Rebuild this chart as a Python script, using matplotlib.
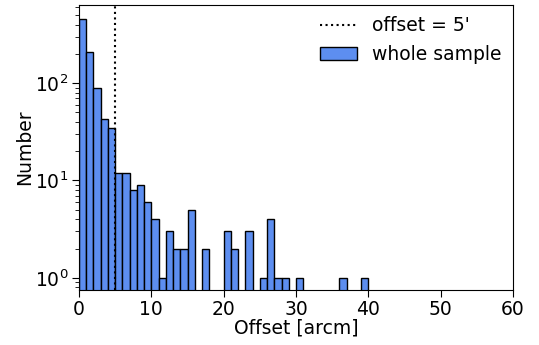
import numpy as np
import matplotlib
matplotlib.use("Agg")
import matplotlib.pyplot as plt

# counts per 1-arcmin bin (bins 0..39)
bin_edges = np.arange(0, 41, 1)
counts = [460, 210, 90, 43, 35, 12, 12, 8, 9, 6,
          4, 1, 3, 2, 2, 5, 0, 2, 0, 0,
          3, 2, 0, 3, 0, 1, 4, 1, 1, 0,
          1, 0, 0, 0, 0, 0, 1, 0, 0, 1]
offset_cut = 5

fs = 13.5
fig = plt.figure(figsize=(5.39, 3.45), dpi=100)
ax = fig.add_axes([79 / 539, 55 / 345, 434 / 539, 285 / 345])

ax.hist(bin_edges[:-1], bins=bin_edges, weights=counts, log=True,
        color='#5d8ef0', edgecolor='black', linewidth=1.0,
        label='whole sample')
ax.axvline(offset_cut, color='black', linestyle=':', linewidth=1.5,
           label="offset = 5'")

ax.set_yscale('log')
ax.set_ylim(0.75, 635)
ax.set_xlim(0, 60)
ax.set_xlabel('Offset [arcm]', fontsize=fs, labelpad=-1)
ax.set_ylabel('Number', fontsize=fs, labelpad=1)
ax.tick_params(labelsize=fs, length=5, pad=2.5)
ax.tick_params(which='minor', length=3)

handles, labels = ax.get_legend_handles_labels()
ax.legend(handles[::-1], labels[::-1], loc='upper right', fontsize=fs,
          frameon=False, borderaxespad=0.2)

fig.savefig('out.png', dpi=100)
